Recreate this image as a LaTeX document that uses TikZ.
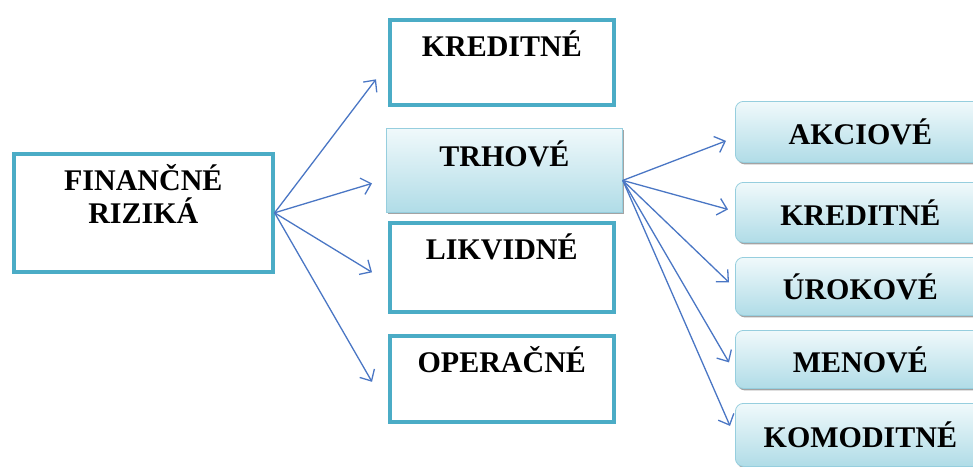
\documentclass[tikz,border=0pt]{standalone}
\usepackage{fontspec}
\setmainfont{Liberation Serif}
\usetikzlibrary{arrows.meta,shadows}
\definecolor{boxteal}{RGB}{75,172,198}
\definecolor{gradtop}{RGB}{240,249,251}
\definecolor{gradbot}{RGB}{176,220,231}
\definecolor{gradedge}{RGB}{150,206,222}
\definecolor{arrowblue}{RGB}{74,118,196}
\begin{document}
\begin{tikzpicture}[x=1pt, y=-1pt,
    txt/.style={font=\fontsize{30}{33}\selectfont\bfseries, align=center},
    plainbox/.style={draw=boxteal, line width=3.6pt, fill=white, anchor=north west},
    gradbox/.style={draw=gradedge, line width=0.8pt, top color=gradtop, bottom color=gradbot,
        anchor=north west, drop shadow={shadow xshift=1.5pt, shadow yshift=-2pt, fill=black!60, opacity=0.6}},
    leafbox/.style={gradbox, rounded corners=8pt, minimum width=250pt},
    arr/.style={draw=arrowblue, line width=1.3pt, -{Straight Barb[length=9pt,width=17pt]}}]
    \useasboundingbox (0,0) rectangle (973,466);
    % left column
    \node[plainbox, minimum width=259pt, minimum height=118pt,
        label={[txt, anchor=north, yshift=-9pt]north:FINANČNÉ\\RIZIKÁ}] (fin) at (12,152) {};
    \node[plainbox, minimum width=224pt, minimum height=85pt,
        label={[txt, anchor=north, yshift=-9pt]north:KREDITNÉ}] (kred) at (388,18) {};
    \node[plainbox, minimum width=224pt, minimum height=89pt,
        label={[txt, anchor=north, yshift=-9pt]north:LIKVIDNÉ}] (likv) at (388,221) {};
    \node[plainbox, minimum width=224pt, minimum height=86pt,
        label={[txt, anchor=north, yshift=-9pt]north:OPERAČNÉ}] (oper) at (388,334) {};
    \node[gradbox, minimum width=236pt, minimum height=84pt,
        label={[txt, anchor=north, yshift=-9pt]north:TRHOVÉ}] (trh) at (386,128) {};
    % right column
    \node[leafbox, minimum height=61pt, txt] (akc) at (735,101) {AKCIOVÉ};
    \node[leafbox, minimum height=60pt, txt] (kred2) at (735,182) {KREDITNÉ};
    \node[leafbox, minimum height=58pt, txt] (urok) at (735,257) {ÚROKOVÉ};
    \node[leafbox, minimum height=58pt, txt] (men) at (735,330) {MENOVÉ};
    \node[leafbox, minimum height=63pt, txt] (kom) at (735,403) {KOMODITNÉ};
    % arrows
    \draw[arr] (fin.east) -- ([xshift=-12pt,yshift=-17pt]kred.west);
    \draw[arr] (fin.east) -- ([xshift=-14pt,yshift=-13pt]trh.west);
    \draw[arr] (fin.east) -- ([xshift=-16pt,yshift=-5pt]likv.west);
    \draw[arr] (fin.east) -- ([xshift=-16pt,yshift=-3pt]oper.west);
    \draw[arr] ([yshift=-10pt]trh.east) -- ([xshift=-9pt,yshift=-9pt]akc.west);
    \draw[arr] ([yshift=-10pt]trh.east) -- ([xshift=-7pt,yshift=3pt]kred2.west);
    \draw[arr] ([yshift=-10pt]trh.east) -- ([xshift=-6pt,yshift=4pt]urok.west);
    \draw[arr] ([yshift=-10pt]trh.east) -- ([xshift=-6pt,yshift=-3pt]men.west);
    \draw[arr] ([yshift=-10pt]trh.east) -- ([xshift=-5pt,yshift=9pt]kom.west);
\end{tikzpicture}
\end{document}
